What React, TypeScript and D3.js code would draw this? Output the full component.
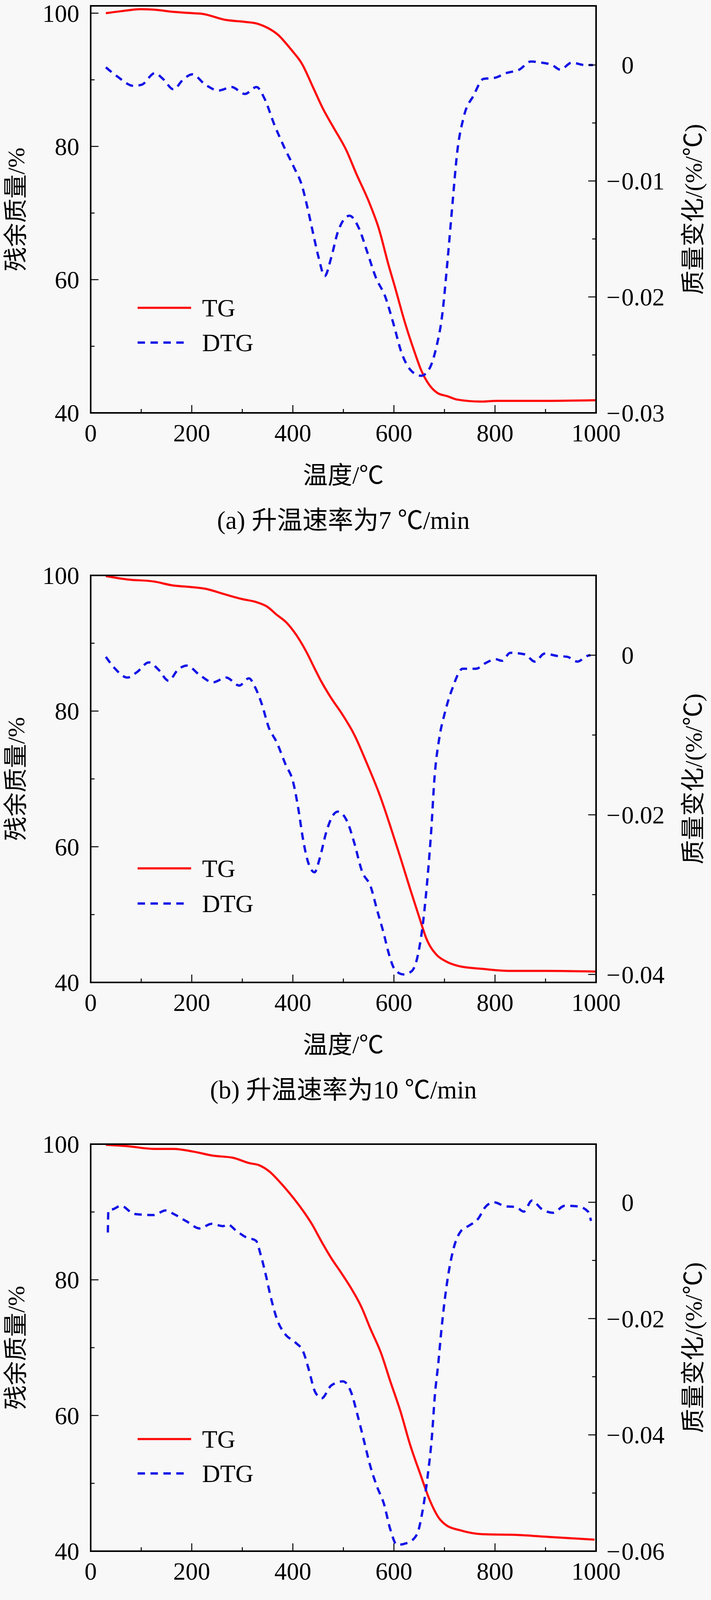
import React from 'react';
import * as d3 from 'd3';

if (typeof document !== 'undefined') {
  document.body.style.margin = '0';
  document.body.style.background = '#f8f8f8';
}

// ---------- axis ticks ----------
const tempTicks = [0, 200, 400, 600, 800, 1000];
const tempMinor = [100, 300, 500, 700, 900];
const massTicks = [40, 60, 80, 100];
const massMinor = [50, 70, 90];

const rateTicksA = [0, -0.01, -0.02, -0.03];
const rateMinorA = [-0.005, -0.015, -0.025];
const rateTicksB = [0, -0.02, -0.04];
const rateMinorB = [-0.01, -0.03];
const rateTicksC = [0, -0.02, -0.04, -0.06];
const rateMinorC = [-0.01, -0.03, -0.05];
const rateTicksD = [0, -0.04, -0.08, -0.12];
const rateMinorD = [-0.02, -0.06, -0.1];

const massDomains = [[40, 101.1], [40, 100], [40, 100], [40, 100]];
const rateDomains = [[-0.03, 0.0051], [-0.041, 0.01], [-0.06, 0.01], [-0.12, 0.02]];

const captions = [
  '(a) 升温速率为7 ℃/min',
  '(b) 升温速率为10 ℃/min',
  '(c) 升温速率为15 ℃/min',
  '(d) 升温速率为25 ℃/min',
];
const seriesNames = ['TG', 'DTG'];

// ---------- panel (a) 7 ℃/min ----------
const tgTempA = [30, 60, 100, 130, 163, 202, 221, 266, 305, 331, 350, 370, 396, 418, 441, 460, 480, 506, 525, 551, 570, 589, 602, 622, 641, 654, 670, 686, 706, 725, 771, 803, 900, 1000];
const tgA = [100.0, 100.3, 100.6, 100.5, 100.2, 100.0, 99.9, 99.0, 98.7, 98.4, 97.8, 96.8, 94.6, 92.4, 88.7, 85.6, 82.9, 79.4, 76.0, 71.6, 67.7, 62.3, 58.9, 53.5, 49.1, 46.4, 44.2, 43.0, 42.5, 42.0, 41.7, 41.8, 41.8, 41.9];
const dtgTempA = [30, 53, 85, 101, 127, 143, 164, 182, 201, 227, 253, 279, 305, 328, 344, 363, 383, 402, 418, 431, 441, 451, 463, 476, 489, 512, 531, 547, 564, 583, 599, 615, 635, 654, 670, 683, 696, 706, 716, 725, 738, 758, 777, 800, 822, 848, 871, 893, 913, 929, 952, 977, 994];
const dtgA = [-0.0002, -0.0010, -0.0018, -0.0017, -0.0007, -0.0012, -0.0021, -0.0013, -0.0008, -0.0017, -0.0022, -0.0019, -0.0025, -0.0019, -0.0029, -0.0051, -0.0071, -0.0088, -0.0104, -0.0127, -0.0147, -0.0166, -0.0182, -0.0166, -0.0144, -0.0130, -0.0141, -0.0161, -0.0183, -0.0200, -0.0223, -0.0248, -0.0264, -0.0268, -0.0262, -0.0245, -0.0214, -0.0169, -0.0119, -0.0076, -0.0045, -0.0026, -0.0012, -0.0011, -0.0007, -0.0004, 0.0003, 0.0002, 0.0000, -0.0004, 0.0002, 0.0000, 0.0000];

// ---------- panel (b) 10 ℃/min ----------
const tgTempB = [30, 73, 125, 164, 196, 229, 261, 300, 326, 349, 368, 388, 407, 427, 443, 456, 476, 498, 521, 547, 573, 593, 612, 632, 651, 664, 684, 703, 729, 775, 827, 905, 999];
const tgB = [99.9, 99.4, 99.1, 98.5, 98.3, 98.0, 97.3, 96.5, 96.1, 95.4, 94.2, 93.0, 91.2, 88.7, 86.3, 84.4, 81.9, 79.5, 76.6, 72.2, 67.4, 63.0, 58.6, 53.8, 49.4, 46.5, 44.1, 43.1, 42.4, 42.0, 41.7, 41.7, 41.6];
const dtgTempB = [30, 47, 73, 92, 115, 134, 154, 173, 190, 216, 242, 268, 294, 313, 326, 339, 352, 368, 385, 401, 411, 420, 430, 443, 453, 466, 479, 489, 508, 521, 537, 554, 567, 580, 589, 602, 619, 635, 648, 658, 667, 674, 680, 690, 700, 716, 736, 762, 781, 801, 814, 830, 859, 879, 898, 924, 943, 963, 982, 989];
const dtgB = [-0.0002, -0.0016, -0.0028, -0.0021, -0.0009, -0.0018, -0.0032, -0.0018, -0.0013, -0.0025, -0.0034, -0.0028, -0.0038, -0.0029, -0.0041, -0.0062, -0.0090, -0.0109, -0.0136, -0.0160, -0.0193, -0.0230, -0.0259, -0.0272, -0.0255, -0.0222, -0.0201, -0.0196, -0.0209, -0.0234, -0.0271, -0.0290, -0.0320, -0.0349, -0.0372, -0.0394, -0.0400, -0.0396, -0.0374, -0.0333, -0.0275, -0.0218, -0.0156, -0.0103, -0.0074, -0.0041, -0.0017, -0.0017, -0.0010, -0.0005, -0.0007, 0.0003, 0.0001, -0.0008, 0.0002, -0.0001, -0.0002, -0.0008, -0.0001, 0.0000];

// ---------- panel (c) 15 ℃/min ----------
const tgTempC = [30, 73, 125, 164, 203, 242, 281, 314, 333, 353, 372, 392, 418, 437, 457, 476, 496, 515, 535, 554, 574, 593, 613, 632, 652, 671, 688, 704, 730, 775, 841, 906, 997];
const tgC = [99.9, 99.7, 99.3, 99.3, 98.9, 98.3, 98.0, 97.2, 96.9, 96.0, 94.6, 92.9, 90.4, 88.3, 85.6, 83.2, 81.0, 78.8, 76.1, 72.7, 69.3, 65.0, 60.6, 55.7, 51.4, 47.5, 45.0, 43.8, 43.1, 42.5, 42.4, 42.1, 41.7];
const dtgTempC = [34, 35, 44, 60, 86, 125, 148, 164, 190, 216, 239, 262, 271, 288, 307, 327, 336, 346, 356, 369, 385, 405, 421, 431, 444, 457, 476, 499, 515, 528, 541, 554, 567, 580, 593, 606, 626, 645, 658, 668, 675, 681, 688, 694, 704, 717, 733, 749, 766, 782, 798, 821, 841, 857, 873, 893, 915, 938, 964, 984, 990];
const dtgC = [-0.0052, -0.0014, -0.0012, -0.0006, -0.0020, -0.0022, -0.0014, -0.0020, -0.0033, -0.0045, -0.0037, -0.0041, -0.0038, -0.0049, -0.0060, -0.0066, -0.0089, -0.0123, -0.0162, -0.0202, -0.0227, -0.0241, -0.0258, -0.0286, -0.0326, -0.0337, -0.0315, -0.0308, -0.0326, -0.0366, -0.0411, -0.0456, -0.0490, -0.0518, -0.0563, -0.0589, -0.0586, -0.0572, -0.0524, -0.0462, -0.0405, -0.0332, -0.0275, -0.0219, -0.0145, -0.0083, -0.0049, -0.0040, -0.0029, -0.0007, 0.0000, -0.0007, -0.0008, -0.0016, 0.0003, -0.0012, -0.0018, -0.0006, -0.0007, -0.0016, -0.0032];

// ---------- panel (d) 25 ℃/min ----------
const tgTempD = [34, 60, 105, 151, 170, 216, 255, 294, 333, 355, 372, 398, 424, 443, 463, 489, 508, 528, 554, 580, 606, 625, 645, 664, 684, 700, 716, 748, 788, 840, 904, 992];
const tgD = [99.8, 99.4, 99.5, 99.3, 99.4, 98.9, 98.8, 98.1, 97.7, 97.2, 96.1, 93.9, 91.7, 90.3, 87.6, 83.5, 81.1, 79.1, 75.7, 71.8, 67.0, 63.1, 58.7, 53.9, 49.0, 45.6, 44.2, 42.7, 42.2, 42.0, 41.8, 41.7];
const dtgTempD = [33, 34, 53, 79, 102, 131, 157, 177, 200, 229, 251, 274, 300, 320, 339, 349, 359, 372, 385, 404, 421, 430, 440, 450, 463, 482, 501, 518, 534, 547, 560, 573, 589, 605, 621, 638, 651, 661, 670, 680, 687, 693, 703, 713, 722, 735, 748, 765, 788, 814, 840, 865, 891, 911, 930, 953, 969, 979, 989];
const dtgD = [0.0037, -0.0025, -0.0025, 0.0000, 0.0005, -0.0016, 0.0002, -0.0025, -0.0053, -0.0036, -0.0050, -0.0076, -0.0050, -0.0070, -0.0115, -0.0172, -0.0240, -0.0319, -0.0353, -0.0356, -0.0375, -0.0420, -0.0488, -0.0556, -0.0592, -0.0567, -0.0522, -0.0511, -0.0545, -0.0612, -0.0669, -0.0737, -0.0793, -0.0861, -0.0929, -0.0985, -0.1014, -0.1014, -0.0963, -0.0838, -0.0737, -0.0624, -0.0466, -0.0330, -0.0240, -0.0160, -0.0093, -0.0059, -0.0042, -0.0025, -0.0014, -0.0019, -0.0005, 0.0009, -0.0005, -0.0016, -0.0005, 0.0032, 0.0082];

const tgTemps = [tgTempA, tgTempB, tgTempC, tgTempD];
const tgVals = [tgA, tgB, tgC, tgD];
const dtgTemps = [dtgTempA, dtgTempB, dtgTempC, dtgTempD];
const dtgVals = [dtgA, dtgB, dtgC, dtgD];
const rateTicks = [rateTicksA, rateTicksB, rateTicksC, rateTicksD];
const rateMinor = [rateMinorA, rateMinorB, rateMinorC, rateMinorD];

// ---------- layout ----------
const W = 1819;
const H = 5733;
const X0 = 232;
const X1 = 1525;
const panelTops = [15, 1473, 2929, 4382];
const PLOT_H = 1042;
const legendOffsets = [[773, 862], [750, 840], [755, 843], [738, 827]];

const FONT = "'Liberation Serif', 'DejaVu Serif', 'Noto Sans CJK SC', serif";
const CJK = "'Liberation Serif', 'Noto Sans CJK SC', serif";
const RED = '#ff0a0a';
const BLUE = '#1414e6';
const BG = '#f8f8f8';
const MAJ = 20;
const MIN = 10;
const DASH = '19 14';

const fmtRate = (v: number) => (Math.abs(v) < 1e-9 ? '0' : d3.format('.2f')(Math.abs(v)));

function Panel({ i }: { i: number }) {
  const top = panelTops[i];
  const bottom = top + PLOT_H;
  const x = d3.scaleLinear().domain([0, 1000]).range([X0, X1]);
  const yL = d3.scaleLinear().domain(massDomains[i]).range([bottom, top]);
  const yR = d3.scaleLinear().domain(rateDomains[i]).range([bottom, top]);

  const tgT = tgTemps[i];
  const dtT = dtgTemps[i];
  const tgLine = d3
    .line<number>()
    .x((_, j) => x(tgT[j]))
    .y((d) => yL(d))
    .curve(d3.curveMonotoneX);
  const dtgLine = d3
    .line<number>()
    .x((_, j) => x(dtT[j]))
    .y((d) => yR(d))
    .curve(d3.curveMonotoneX);

  const [lo1, lo2] = legendOffsets[i];
  const cx = (X0 + X1) / 2;
  const cy = (top + bottom) / 2;

  return (
    <g>
      {/* data */}
      <path d={tgLine(tgVals[i]) || ''} fill="none" stroke={RED} strokeWidth={5.5} strokeLinejoin="round" />
      <path d={dtgLine(dtgVals[i]) || ''} fill="none" stroke={BLUE} strokeWidth={6} strokeDasharray={DASH} />

      {/* x ticks (bottom, inward) */}
      {tempTicks.map((t) => (
        <g key={'xt' + t}>
          <line x1={x(t)} x2={x(t)} y1={bottom} y2={bottom - MAJ} stroke="#000" strokeWidth={2.5} />
          <text x={x(t)} y={bottom + 73} textAnchor="middle" fontFamily={FONT} fontSize={63} fill="#000">
            {t}
          </text>
        </g>
      ))}
      {tempMinor.map((t) => (
        <line key={'xm' + t} x1={x(t)} x2={x(t)} y1={bottom} y2={bottom - MIN} stroke="#000" strokeWidth={2.5} />
      ))}

      {/* left ticks */}
      {massTicks.map((m) => (
        <g key={'lt' + m}>
          <line x1={X0} x2={X0 + MAJ} y1={yL(m)} y2={yL(m)} stroke="#000" strokeWidth={2.5} />
          <text x={X0 - 29} y={yL(m)} dy="0.35em" textAnchor="end" fontFamily={FONT} fontSize={63} fill="#000">
            {m}
          </text>
        </g>
      ))}
      {massMinor.map((m) => (
        <line key={'lm' + m} x1={X0} x2={X0 + MIN} y1={yL(m)} y2={yL(m)} stroke="#000" strokeWidth={2.5} />
      ))}

      {/* right ticks */}
      {rateTicks[i].map((r) => (
        <g key={'rt' + r}>
          <line x1={X1} x2={X1 - MAJ} y1={yR(r)} y2={yR(r)} stroke="#000" strokeWidth={2.5} />
          {r < 0 && (
            <text x={X1 + 62} y={yR(r)} dy="0.35em" textAnchor="end" fontFamily={FONT} fontSize={63} fill="#000">
              −
            </text>
          )}
          <text x={X1 + 65} y={yR(r)} dy="0.35em" textAnchor="start" fontFamily={FONT} fontSize={63} fill="#000">
            {fmtRate(r)}
          </text>
        </g>
      ))}
      {rateMinor[i].map((r) => (
        <line key={'rm' + r} x1={X1} x2={X1 - MIN} y1={yR(r)} y2={yR(r)} stroke="#000" strokeWidth={2.5} />
      ))}

      {/* frame */}
      <rect x={X0} y={top} width={X1 - X0} height={PLOT_H} fill="none" stroke="#000" strokeWidth={4} />

      {/* axis titles */}
      <text x={cx} y={bottom + 181} textAnchor="middle" fontFamily={CJK} fontSize={63} fill="#000">
        温度/℃
      </text>
      <text
        transform={`translate(40,${cy}) rotate(-90)`}
        dy="0.36em"
        textAnchor="middle"
        fontFamily={CJK}
        fontSize={62}
        fill="#000"
      >
        残余质量/%
      </text>
      <text
        transform={`translate(1773,${cy}) rotate(-90)`}
        dy="0.36em"
        textAnchor="middle"
        fontFamily={CJK}
        fontSize={62}
        fill="#000"
      >
        质量变化/(%/℃)
      </text>

      {/* caption */}
      <text x={cx} y={bottom + 297} textAnchor="middle" fontFamily={CJK} fontSize={65} fill="#000">
        {captions[i]}
      </text>

      {/* legend */}
      <line x1={352} x2={489} y1={top + lo1} y2={top + lo1} stroke={RED} strokeWidth={5.5} />
      <text x={517} y={top + lo1} dy="0.35em" fontFamily={FONT} fontSize={64} fill="#000">
        {seriesNames[0]}
      </text>
      <line x1={352} x2={478} y1={top + lo2} y2={top + lo2} stroke={BLUE} strokeWidth={6} strokeDasharray={DASH} />
      <text x={517} y={top + lo2} dy="0.35em" fontFamily={FONT} fontSize={64} fill="#000">
        {seriesNames[1]}
      </text>
    </g>
  );
}

export default function App() {
  return (
    <div style={{ width: W, height: H, margin: 0, padding: 0, overflow: 'hidden' }}>
      <svg width={W} height={H} viewBox={`0 0 ${W} ${H}`} style={{ display: 'block' }}>
        <rect x={0} y={0} width={W} height={H} fill={BG} />
        {[0, 1, 2, 3].map((i) => (
          <Panel key={i} i={i} />
        ))}
      </svg>
    </div>
  );
}
